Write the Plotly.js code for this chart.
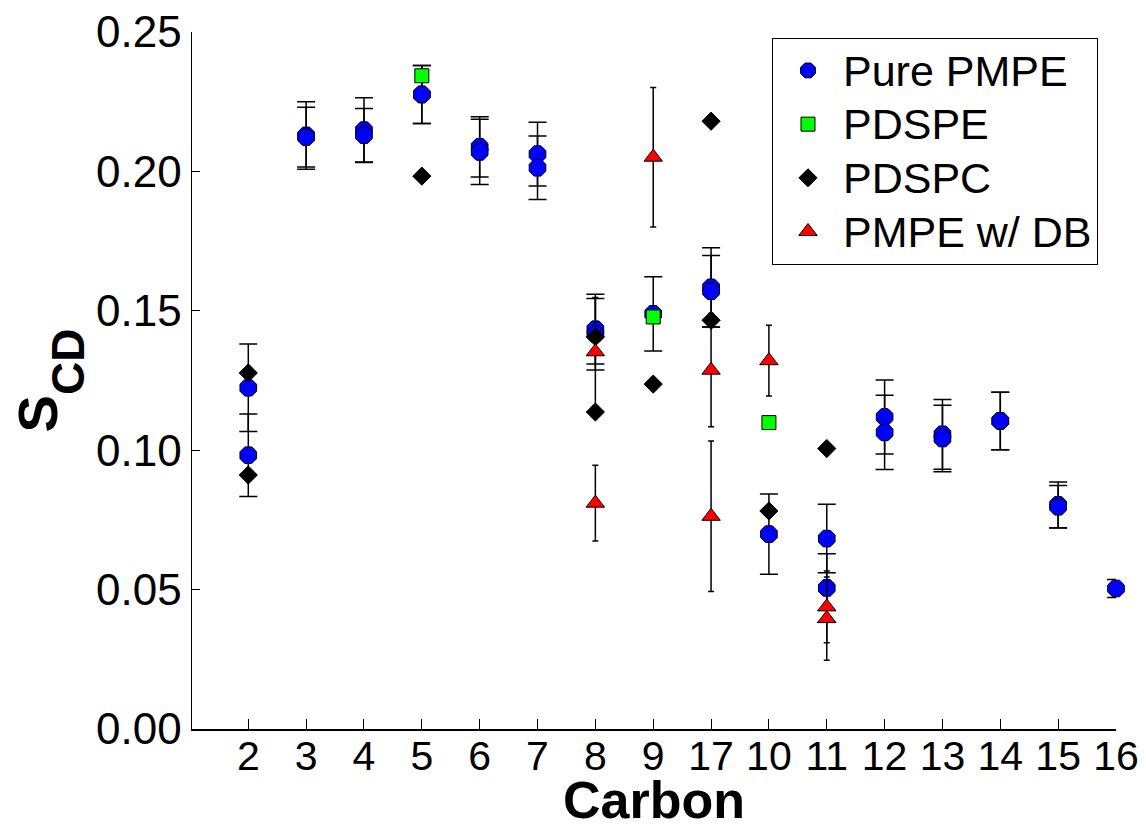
<!DOCTYPE html>
<html>
<head>
<meta charset="utf-8">
<script src="https://cdn.plot.ly/plotly-3.0.1.min.js"></script>
<style>html,body{margin:0;padding:0;background:#fff;}#chart{width:1146px;height:829px;}</style>
</head>
<body>
<div id="chart"></div>
<script>
// Category order on the x axis
const carbonOrder = ['2','3','4','5','6','7','8','9','17','10','11','12','13','14','15','16'];

// Pure PMPE
const pureX = ['2','2','3','3','4','4','5','5','6','6','7','7','8','8','9','17','17','10','11','11','12','12','13','13','14','14','15','15','16'];
const pureY = [0.1224,0.0982,0.2129,0.2123,0.2148,0.2130,0.2276,0.2276,0.2088,0.2070,0.2062,0.2013,0.1434,0.1416,0.1489,0.1584,0.1570,0.0699,0.0683,0.0506,0.1119,0.1064,0.1057,0.1042,0.1105,0.1105,0.0804,0.0797,0.0504];
const pureErr = [0.0157,0.0148,0.0121,0.0107,0.0116,0.0096,0.0104,0.0104,0.0108,0.0117,0.0114,0.0114,0.0125,0.0128,0.0133,0.0142,0.0128,0.0144,0.0123,0.0123,0.0133,0.0133,0.0125,0.0119,0.0103,0.0103,0.0082,0.0076,0.0032];

// PDSPE
const pdspeX = ['5','9','10'];
const pdspeY = [0.2343,0.1478,0.1099];

// PDSPC
const pdspcX = ['2','2','5','8','8','9','17','17','10','11'];
const pdspcY = [0.1277,0.0911,0.1983,0.1407,0.1137,0.1237,0.2180,0.1466,0.0782,0.1006];

// PMPE w/ DB
const dbX = ['8','8','9','17','17','10','11','11'];
const dbY = [0.1353,0.0810,0.2051,0.1287,0.0763,0.1321,0.0438,0.0396];
const dbErr = [0.0195,0.0136,0.0250,0.0203,0.0270,0.0127,0.0129,0.0149];

// Legend labels
const seriesNames = ['Pure PMPE','PDSPE','PDSPC','PMPE w/ DB'];

const FONT = 'Arial, "Liberation Sans", sans-serif';
const lg = s => '<span style="font-size:43px">' + s + '</span>';

const traces = [
  {
    name: lg(seriesNames[0]), type: 'scatter', mode: 'markers', x: pureX, y: pureY,
    marker: {symbol: 'octagon', size: 18, color: '#0000ff', line: {color: '#000', width: 1}},
    error_y: {type: 'data', array: pureErr, visible: true, color: '#000', thickness: 1.5, width: 9},
    cliponaxis: false
  },
  {
    name: lg(seriesNames[1]), type: 'scatter', mode: 'markers', x: pdspeX, y: pdspeY,
    marker: {symbol: 'square', size: 14, color: '#00ff00', line: {color: '#000', width: 1}},
    cliponaxis: false
  },
  {
    name: lg(seriesNames[2]), type: 'scatter', mode: 'markers', x: pdspcX, y: pdspcY,
    marker: {symbol: 'diamond', size: 14, color: '#000', line: {color: '#000', width: 1}},
    cliponaxis: false
  },
  {
    name: lg(seriesNames[3]), type: 'scatter', mode: 'markers', x: dbX, y: dbY,
    marker: {symbol: 'triangle-up', size: 16, color: '#ff0000', line: {color: '#000', width: 1}},
    error_y: {type: 'data', array: dbErr, visible: true, color: '#000', thickness: 1.5, width: 3},
    cliponaxis: false
  }
];

const layout = {
  width: 1146, height: 829,
  margin: {l: 192, r: 30, t: 32, b: 100, pad: 0},
  paper_bgcolor: '#fff', plot_bgcolor: '#fff',
  font: {family: FONT, color: '#000'},
  showlegend: true,
  legend: {
    x: 0.6277, y: 0.992, xanchor: 'left', yanchor: 'top',
    bordercolor: '#000', borderwidth: 1, bgcolor: '#fff',
    font: {family: FONT, size: 39, color: '#000'},
    itemwidth: 60
  },
  xaxis: {
    type: 'category', categoryorder: 'array', categoryarray: carbonOrder,
    range: [-0.973, 15],
    showline: true, linecolor: '#000', linewidth: 1.5,
    showgrid: false, zeroline: false,
    ticks: 'inside', ticklen: 10, tickwidth: 1, tickcolor: '#000',
    ticklabelstandoff: -10,
    tickfont: {family: FONT, size: 41, color: '#000'},
    title: {text: '<b><span style="baseline-shift:-7px">Carbon</span></b>', font: {family: FONT, size: 52, color: '#000'}},
    automargin: false, fixedrange: true
  },
  yaxis: {
    range: [0, 0.25], dtick: 0.05, tick0: 0, tickformat: '.2f',
    showline: true, linecolor: '#000', linewidth: 1.5,
    showgrid: false, zeroline: false,
    ticks: 'inside', ticklen: 8, tickwidth: 1, tickcolor: '#000',
    tickfont: {family: FONT, size: 44, color: '#000'},
    title: {text: '<b>S<span style="font-size:46px;baseline-shift:-27px">CD</span></b>', font: {family: FONT, size: 56, color: '#000'}},
    automargin: false, fixedrange: true
  }
};

Plotly.newPlot('chart', traces, layout, {displayModeBar: false, staticPlot: true});
</script>
</body>
</html>
